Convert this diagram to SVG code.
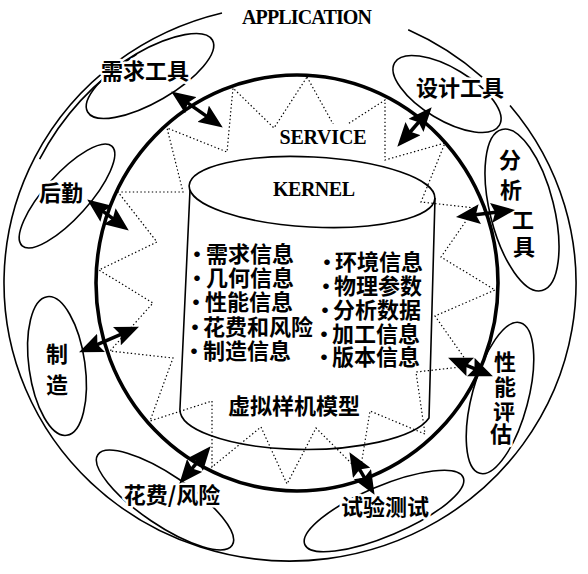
<svg xmlns="http://www.w3.org/2000/svg" width="588" height="574" viewBox="0 0 588 574">
<defs>
<style>
.thin{fill:none;stroke:#000;stroke-width:1.6}
.thick{fill:none;stroke:#000;stroke-width:3.6}
.dot{fill:none;stroke:#000;stroke-width:1.2;stroke-dasharray:1.4 2.4}
.lat{font-family:"Liberation Serif","Times New Roman",serif;font-size:20px;font-weight:bold;fill:#000}
.cjk{font-family:"Noto Sans CJK SC","Noto Sans CJK JP",sans-serif;font-size:22px;font-weight:700;fill:#000}
.halo{stroke:#fff;stroke-width:5;stroke-linejoin:round;paint-order:stroke}
.arr{fill:none;stroke:#000;stroke-width:3.5;marker-start:url(#ah);marker-end:url(#ah)}
</style>
<marker id="ah" viewBox="0 0 24 20" refX="15" refY="10" markerWidth="24" markerHeight="20" markerUnits="userSpaceOnUse" orient="auto-start-reverse">
<path d="M0,0 L24,10 L0,20 L4,10 z" fill="#000"/>
</marker>
</defs>
<rect width="588" height="574" fill="#fff"/>

<g id="service-zigzag">
<polygon class="dot" points="307,77 337,131 385,100 385,160 445,143 421,202 475,208 441,257 495,290 435,316 470,366 416,372 425,434 370,411 360,472 316,428 287,484 261,427 212,467 212,401 150,421 173,358 110,351 153,303 99,270 157,242 118,192 183,192 167,128 227,152 233,88 274,128"/>
</g>

<g id="kernel">
<path class="thin" d="M190,190 L180,408 A126 40 0 0 0 429,418 L435,198"/>
<ellipse class="thin" cx="312" cy="192" rx="123" ry="35" transform="rotate(3 312 192)"/>
<text class="lat" x="314" y="196" text-anchor="middle" textLength="82">KERNEL</text>
<g class="cjk">
<text x="186" y="262"><tspan>·</tspan><tspan x="206">需求信息</tspan></text>
<text x="186" y="286"><tspan>·</tspan><tspan x="206">几何信息</tspan></text>
<text x="185" y="310"><tspan>·</tspan><tspan x="205">性能信息</tspan></text>
<text x="184" y="335"><tspan>·</tspan><tspan x="203">花费和风险</tspan></text>
<text x="183" y="359"><tspan>·</tspan><tspan x="203">制造信息</tspan></text>
<text x="316" y="270"><tspan>·</tspan><tspan x="335">环境信息</tspan></text>
<text x="315" y="294"><tspan>·</tspan><tspan x="334">物理参数</tspan></text>
<text x="314" y="318"><tspan>·</tspan><tspan x="333">分析数据</tspan></text>
<text x="313" y="342"><tspan>·</tspan><tspan x="332">加工信息</tspan></text>
<text x="313" y="365"><tspan>·</tspan><tspan x="332">版本信息</tspan></text>
<text x="294" y="414" text-anchor="middle">虚拟样机模型</text>
</g>
</g>

<g id="service">
<ellipse class="thick" cx="297" cy="283" rx="201" ry="208"/>
<rect x="278" y="124" width="92" height="24" fill="#fff"/>
<text class="lat" x="323" y="144" text-anchor="middle" textLength="87">SERVICE</text>
</g>

<g id="application">
<path class="thin" d="M408.2,29.8 A286 278 0 0 1 482.1,77.1 M510,105.4 A286 278 0 1 1 222,13"/>
<path class="thin" d="M136.9,54 A281 273 0 0 0 39.6,159.1"/>
<text class="lat" x="307" y="24" text-anchor="middle" textLength="130">APPLICATION</text>
</g>

<g id="xuqiu">
<ellipse class="thin" cx="150" cy="76" rx="72" ry="26" transform="rotate(-30 150 76)"/>
<text class="cjk halo" x="145" y="79" text-anchor="middle">需求工具</text>
</g>
<g id="houqin">
<ellipse class="thin" cx="67" cy="196" rx="67" ry="22" transform="rotate(-48 67 196)"/>
<text class="cjk halo" x="61" y="201" text-anchor="middle" font-size="21">后勤</text>
</g>
<g id="sheji">
<ellipse class="thin" cx="447" cy="94" rx="61" ry="26" transform="rotate(31 447 94)"/>
<text class="cjk halo" x="460" y="96" text-anchor="middle">设计工具</text>
</g>
<g id="fenxi">
<ellipse class="thin" cx="522" cy="210" rx="32" ry="83" transform="rotate(-14 522 210)"/>
<g class="cjk halo" text-anchor="middle" font-size="21">
<text x="510" y="168">分</text>
<text x="511" y="198">析</text>
<text x="523" y="228">工</text>
<text x="524" y="255">具</text>
</g>
</g>
<g id="xingneng">
<ellipse class="thin" cx="500" cy="398" rx="28" ry="78" transform="rotate(15 500 398)"/>
<g class="cjk halo" text-anchor="middle">
<text x="505" y="370">性</text>
<text x="505" y="395">能</text>
<text x="504" y="420">评</text>
<text x="501" y="442">估</text>
</g>
</g>
<g id="shiyan">
<ellipse class="thin" cx="384" cy="511" rx="86" ry="25" transform="rotate(-23 384 511)"/>
<text class="cjk halo" x="385" y="515" text-anchor="middle">试验测试</text>
</g>
<g id="huafei">
<ellipse class="thin" cx="165" cy="500" rx="81" ry="25" transform="rotate(34 165 500)"/>
<text class="cjk halo" x="172" y="503" text-anchor="middle">花费/风险</text>
</g>
<g id="zhizao">
<ellipse class="thin" cx="57" cy="366" rx="28" ry="70" transform="rotate(-8 57 366)"/>
<g class="cjk halo" text-anchor="middle">
<text x="57" y="362">制</text>
<text x="57" y="393">造</text>
</g>
</g>

<g id="connectors">
<line class="arr" x1="178.6" y1="96.6" x2="215.4" y2="122.4"/>
<line class="arr" x1="94.4" y1="204.8" x2="121.6" y2="225.2"/>
<line class="arr" x1="425.8" y1="114" x2="403.2" y2="140"/>
<line class="arr" x1="464.9" y1="216" x2="506.1" y2="211"/>
<line class="arr" x1="456.4" y1="361.1" x2="484.6" y2="372.9"/>
<line class="arr" x1="354" y1="459.9" x2="370" y2="487.1"/>
<line class="arr" x1="185.1" y1="476.9" x2="204.9" y2="453.1"/>
<line class="arr" x1="87.3" y1="348.8" x2="130.7" y2="330.2"/>
</g>
</svg>
